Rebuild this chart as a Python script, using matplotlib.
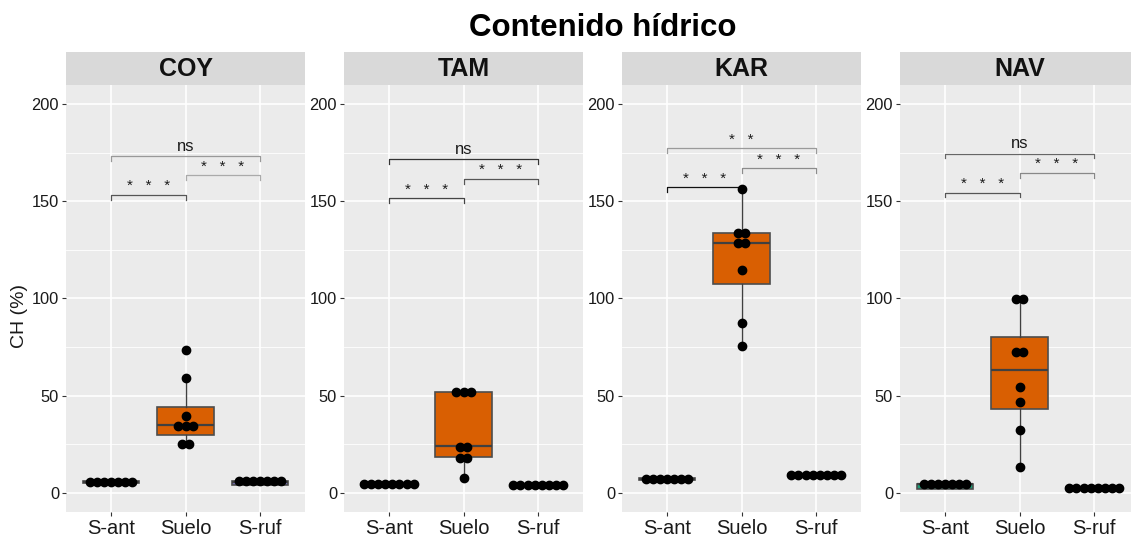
import numpy as np
import matplotlib.pyplot as plt

plt.rcParams['font.family'] = ['Liberation Sans', 'DejaVu Sans']

# Datos: contenido hídrico (%) por sitio y grupo
sitios = ['COY', 'TAM', 'KAR', 'NAV']
grupos = ['S-ant', 'Suelo', 'S-ruf']
colores = ['#1B9E77', '#D95F02', '#7570B3']

coy_ant = [5.5, 5.5, 5.5, 5.5, 5.5, 5.5, 5.5]
coy_suelo = [73.5, 58.9, 39.7, 34.5, 34.5, 34.5, 25.1, 25.1]
coy_ruf = [5.8, 5.8, 5.8, 5.8, 5.8, 5.8, 5.8]

tam_ant = [4.4, 4.4, 4.4, 4.4, 4.4, 4.4, 4.4, 4.4]
tam_suelo = [51.6, 51.6, 51.6, 23.6, 23.6, 18.0, 18.0, 7.5]
tam_ruf = [3.8, 3.8, 3.8, 3.8, 3.8, 3.8, 3.8, 3.8]

kar_ant = [7.0, 7.0, 7.0, 7.0, 7.0, 7.0, 7.0]
kar_suelo = [156.2, 134.0, 134.0, 128.4, 128.4, 114.5, 87.4, 75.3]
kar_ruf = [9.3, 9.3, 9.3, 9.3, 9.3, 9.3, 9.3, 9.3]

nav_ant = [4.5, 4.5, 4.5, 4.5, 4.5, 4.5, 4.5]
nav_suelo = [99.9, 99.9, 72.6, 72.6, 54.4, 46.7, 32.1, 13.2]
nav_ruf = [2.6, 2.6, 2.6, 2.6, 2.6, 2.6, 2.6, 2.6]

# cajas: (q1, mediana, q3, bigote inferior, bigote superior)
coy_cajas = [(5.1, 5.5, 5.9, 5.1, 5.9), (29.9, 34.7, 44.3, 25.1, 58.9), (3.8, 5.6, 6.0, 3.8, 6.0)]
tam_cajas = [(4.1, 4.4, 4.7, 4.1, 4.7), (18.5, 23.8, 51.6, 7.5, 51.6), (3.5, 3.8, 4.0, 3.5, 4.0)]
kar_cajas = [(6.7, 7.0, 7.3, 6.7, 7.3), (107.6, 128.4, 133.9, 75.3, 156.2), (8.8, 9.3, 9.6, 8.8, 9.6)]
nav_cajas = [(2.1, 4.3, 4.5, 2.1, 4.5), (43.1, 63.0, 80.3, 13.2, 99.9), (2.4, 2.6, 2.8, 2.4, 2.8)]

# comparaciones: (S-ant, Suelo), (Suelo, S-ruf), (S-ant, S-ruf)
pares = [(1, 2), (2, 3), (1, 3)]
coy_sig = [153.3, 163.4, 173.5]
tam_sig = [151.7, 161.6, 171.7]
kar_sig = [157.2, 167.0, 177.3]
nav_sig = [154.6, 164.8, 174.7]
coy_lab = ['*   *   *', '*   *   *', 'ns']
tam_lab = ['*   *   *', '*   *   *', 'ns']
kar_lab = ['*   *   *', '*   *   *', '*   *']
nav_lab = ['*   *   *', '*   *   *', 'ns']
coy_col = ['#555555', '#AAAAAA', '#999999']
tam_col = ['#444444', '#555555', '#333333']
kar_col = ['#111111', '#8C8C8C', '#9A9A9A']
nav_col = ['#555555', '#888888', '#666666']

datos = {
    'COY': ([coy_ant, coy_suelo, coy_ruf], coy_cajas, coy_sig, coy_lab, coy_col),
    'TAM': ([tam_ant, tam_suelo, tam_ruf], tam_cajas, tam_sig, tam_lab, tam_col),
    'KAR': ([kar_ant, kar_suelo, kar_ruf], kar_cajas, kar_sig, kar_lab, kar_col),
    'NAV': ([nav_ant, nav_suelo, nav_ruf], nav_cajas, nav_sig, nav_lab, nav_col),
}

W, H = 1131, 536
fig = plt.figure(figsize=(W / 100, H / 100), dpi=100)
izq = [66, 344, 622, 900]
ancho = 239
paso = 0.095  # separación horizontal entre puntos apilados

for k, sitio in enumerate(sitios):
    puntos, cajas, sig, lab, col = datos[sitio]
    ax = fig.add_axes([izq[k] / W, (H - 512) / H, ancho / W, 427 / H])
    tira = fig.add_axes([izq[k] / W, (H - 85) / H, ancho / W, 33 / H])

    stats = []
    for c in cajas:
        stats.append({'q1': c[0], 'med': c[1], 'q3': c[2], 'whislo': c[3], 'whishi': c[4]})
    bp = ax.bxp(stats, positions=[1, 2, 3], widths=0.75, patch_artist=True,
                showfliers=False, showcaps=False, manage_ticks=False,
                boxprops=dict(edgecolor='#4D4D4D', linewidth=1.2),
                medianprops=dict(color='#404040', linewidth=1.6),
                whiskerprops=dict(color='#404040', linewidth=1.0))
    for caja, c in zip(bp['boxes'], colores):
        caja.set_facecolor(c)

    ax.set_facecolor('#EBEBEB')
    ax.set_xlim(0.4, 3.6)
    ax.set_ylim(-10, 210)
    ax.set_yticks([0, 50, 100, 150, 200])
    ax.set_yticks([25, 75, 125, 175], minor=True)
    ax.set_xticks([1, 2, 3])
    ax.set_xticklabels(grupos)
    ax.grid(which='major', color='white', lw=1.2)
    ax.grid(which='minor', axis='y', color='white', lw=0.6)
    ax.set_axisbelow(True)
    for s in ax.spines.values():
        s.set_visible(False)
    ax.tick_params(which='major', length=3, width=0.8, color='#333333', pad=2)
    ax.tick_params(which='minor', length=0)
    ax.tick_params(axis='x', labelsize=14.5, labelcolor='#1a1a1a')
    ax.tick_params(axis='y', labelsize=11.8, labelcolor='#1a1a1a')

    # puntos apilados de forma centrada (dotplot)
    for i, vals in enumerate(puntos):
        vals = np.array(vals)
        for v in np.unique(vals):
            n = np.sum(vals == v)
            xs = i + 1 + (np.arange(n) - (n - 1) / 2) * paso
            ax.plot(xs, np.full(n, v), 'o', color='black', ms=6, zorder=4)

    # corchetes de significancia
    for (a, b), y, t, c in zip(pares, sig, lab, col):
        punta = 2.5
        ax.plot([a, a, b, b], [y - punta, y, y, y - punta], color=c, lw=0.9, zorder=3)
        if t == 'ns':
            ax.text((a + b) / 2, y + 1.2, t, ha='center', va='bottom', fontsize=12, color='#1a1a1a')
        else:
            ax.text((a + b) / 2, y + 0.8, t, ha='center', va='bottom', fontsize=11, color='#1a1a1a')

    tira.set_facecolor('#D9D9D9')
    tira.set_xticks([])
    tira.set_yticks([])
    for s in tira.spines.values():
        s.set_visible(False)
    tira.text(0.5, 0.5, sitio, ha='center', va='center', fontsize=18,
              fontweight='bold', color='#111111', transform=tira.transAxes)

fig.text(603 / W, 1 - 28 / H, 'Contenido hídrico', ha='center', va='center',
         fontsize=22.5, fontweight='bold')
fig.text(20 / W, 1 - 316 / H, 'CH (%)', ha='center', va='center', rotation=90,
         fontsize=14, color='#1a1a1a')

fig.savefig('out.png', dpi=100)
